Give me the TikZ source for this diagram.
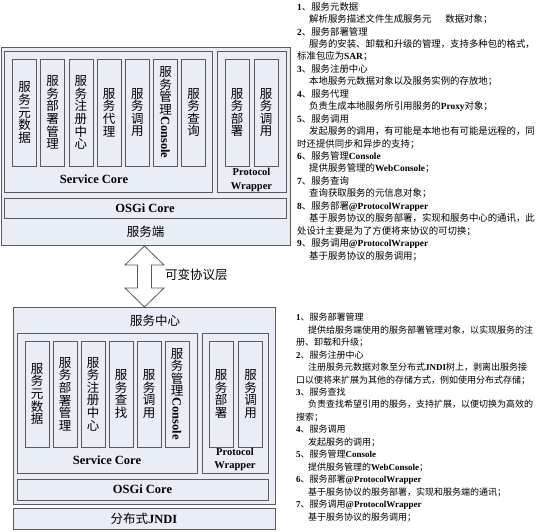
\documentclass[tikz,border=0pt]{standalone}
\usepackage{fontspec}
\usepackage{graphicx}
\setmainfont{Liberation Serif}
\newfontfamily\cjk{Noto Sans CJK SC}
\definecolor{boxfill}{RGB}{232,237,246}
\definecolor{boxline}{RGB}{90,90,90}
\newcommand{\en}[1]{{\rmfamily\bfseries #1}}
\newcommand{\ind}{\hspace*{12pt}}
\tikzset{
  blk/.style = {draw=boxline, fill=boxfill, line width=0.8pt,
                inner sep=0pt, outer sep=0pt},
  col/.style = {blk, minimum width=24, minimum height=#1, align=center,
                font=\fontsize{12.5}{12.6}\selectfont\cjk},
  col/.default = 107,
  lbl/.style = {inner sep=0pt, font=\fontsize{12.5}{14}\selectfont\rmfamily\bfseries},
  zh/.style = {inner sep=0pt, font=\fontsize{12.5}{14}\selectfont\cjk},
  pwlbl/.style = {inner sep=0pt, align=center,
                  font=\fontsize{10.5}{13.5}\selectfont\rmfamily\bfseries},
  note/.style = {inner sep=0pt, anchor=north west, align=left,
                 font=\fontsize{#1}{12.45}\selectfont\cjk},
  note/.default = 9.4
}

\begin{document}
\begin{tikzpicture}[x=1pt, y=-1pt]
	\def\cy{112.5}  % column centre, server side
	\def\ly{394}    % column centre, centre side
	\useasboundingbox (0,0) rectangle (537,531);

	% Server side
	\node[blk, minimum width=289, minimum height=198] (srv) at (145.5,146) {};
	\node[blk, minimum width=208, minimum height=141] (srvsc) at (108,121.5) {};
	\node[blk, minimum width=69, minimum height=141] (srvpw) at (251.5,121.5) {};
	\node[blk, lbl, minimum width=282, minimum height=20] (srvosgi) at (145,208) {OSGi Core};

	\node[col] (s1) at (24.5,\cy) {服\\务\\元\\数\\据};
	\node[col] (s2) at (52.7,\cy) {服\\务\\部\\署\\管\\理};
	\node[col] (s3) at (80.9,\cy) {服\\务\\注\\册\\中\\心};
	\node[col] (s4) at (109.1,\cy) {服\\务\\代\\理};
	\node[col] (s5) at (137.3,\cy) {服\\务\\调\\用};
	\node[col] (s6) at (165.5,\cy) {服\\务\\管\\理\\[-11pt]\rotatebox{-90}{\en{Console}}};
	\node[col] (s7) at (193.7,\cy) {服\\务\\查\\询};
	\node[col] (s8) at (237,\cy) {服\\务\\部\\署};
	\node[col] (s9) at (266,\cy) {服\\务\\调\\用};

	\node[lbl] (srvsctxt) at (94,179) {Service Core};
	\node[pwlbl] (srvpwtxt) at (251.5,180) {Protocol\\Wrapper};
	\node[zh] (srvtxt) at (145.5,232) {服务端};

	% Protocol layer
	\draw[draw=boxline, fill=white, line width=0.8pt]
		(144.5,246) -- (164,265) -- (151.5,265) -- (151.5,288) -- (164,288)
		-- (144.5,307) -- (125,288) -- (137.5,288) -- (137.5,265) -- (125,265) -- cycle;
	\node[zh, anchor=west] (layer) at (165,275) {可变协议层};

	% Service centre
	\node[blk, minimum width=262, minimum height=197] (ctr) at (144,405.5) {};
	\node[zh] (ctrtxt) at (155,321) {服务中心};
	\node[blk, minimum width=180, minimum height=140] (ctrsc) at (107,403) {};
	\node[blk, minimum width=66, minimum height=140] (ctrpw) at (235,403) {};
	\node[blk, lbl, minimum width=251, minimum height=21] (ctrosgi) at (142.5,489.5) {OSGi Core};

	\node[col=106] (c1) at (37,\ly) {服\\务\\元\\数\\据};
	\node[col=106] (c2) at (65,\ly) {服\\务\\部\\署\\管\\理};
	\node[col=106] (c3) at (93,\ly) {服\\务\\注\\册\\中\\心};
	\node[col=106] (c4) at (121,\ly) {服\\务\\查\\找};
	\node[col=106] (c5) at (149,\ly) {服\\务\\调\\用};
	\node[col=106] (c6) at (177,\ly) {服\\务\\管\\理\\[-11pt]\rotatebox{-90}{\en{Console}}};
	\node[col=106] (c7) at (221,\ly) {服\\务\\部\\署};
	\node[col=106] (c8) at (250.5,\ly) {服\\务\\调\\用};

	\node[lbl] (ctrsctxt) at (107,460) {Service Core};
	\node[pwlbl] (ctrpwtxt) at (235,459.5) {Protocol\\Wrapper};

	% JNDI
	\node[blk, zh, minimum width=262, minimum height=21] (jndi) at (144,518.5) {分布式\en{JNDI}};

	% Notes
	\node[note] (srvnote) at (297,2) {%
		\en{1}、服务元数据\\
		\ind 解析服务描述文件生成服务元\hspace{14pt}数据对象；\\
		\en{2}、服务部署管理\\
		\ind 服务的安装、卸载和升级的管理，支持多种包的格式，\\
		标准包应为\en{SAR}；\\
		\en{3}、服务注册中心\\
		\ind 本地服务元数据对象以及服务实例的存放地；\\
		\en{4}、服务代理\\
		\ind 负责生成本地服务所引用服务的\en{Proxy}对象；\\
		\en{5}、服务调用\\
		\ind 发起服务的调用，有可能是本地也有可能是远程的，同\\
		时还提供同步和异步的支持；\\
		\en{6}、服务管理\en{Console}\\
		\ind 提供服务管理的\en{WebConsole}；\\
		\en{7}、服务查询\\
		\ind 查询获取服务的元信息对象；\\
		\en{8}、服务部署\en{@ProtocolWrapper}\\
		\ind 基于服务协议的服务部署，实现和服务中心的通讯，此\\
		处设计主要是为了方便将来协议的可切换；\\
		\en{9}、服务调用\en{@ProtocolWrapper}\\
		\ind 基于服务协议的服务调用；};

	\node[note=9.0] (ctrnote) at (296,313) {%
		\en{1}、服务部署管理\\
		\ind 提供给服务端使用的服务部署管理对象，以实现服务的注\\
		册、卸载和升级；\\
		\en{2}、服务注册中心\\
		\ind 注册服务元数据对象至分布式\en{JNDI}树上，剥离出服务接\\
		口以便将来扩展为其他的存储方式，例如使用分布式存储；\\
		\en{3}、服务查找\\
		\ind 负责查找希望引用的服务，支持扩展，以便切换为高效的\\
		搜索；\\
		\en{4}、服务调用\\
		\ind 发起服务的调用；\\
		\en{5}、服务管理\en{Console}\\
		\ind 提供服务管理的\en{WebConsole}；\\
		\en{6}、服务部署\en{@ProtocolWrapper}\\
		\ind 基于服务协议的服务部署，实现和服务端的通讯；\\
		\en{7}、服务调用\en{@ProtocolWrapper}\\
		\ind 基于服务协议的服务调用；};

\end{tikzpicture}
\end{document}
